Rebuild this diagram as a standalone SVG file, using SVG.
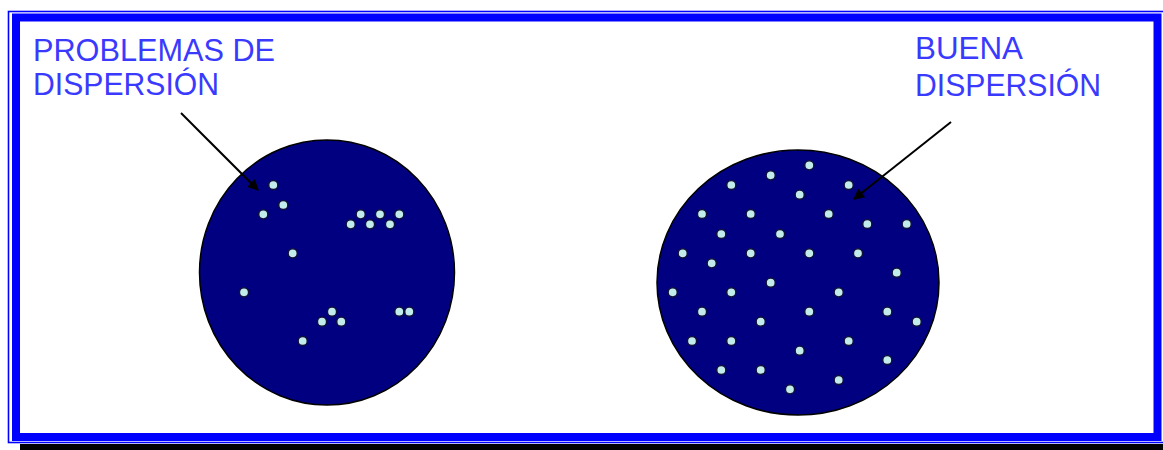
<svg xmlns="http://www.w3.org/2000/svg" width="1163" height="450" viewBox="0 0 1163 450">
<style>
.lbl{font-family:"Liberation Sans",Arial,sans-serif;font-size:31px;fill:#3a3aff}
.disk{fill:#000080;stroke:#000;stroke-width:1.5}
.dot{fill:#c2ecec;stroke:#10103a;stroke-width:1.5}
.arr{stroke:#000;stroke-width:2;fill:none;marker-end:url(#ah)}
</style>
<defs>
<marker id="ah" viewBox="0 0 10 10" refX="9" refY="5" markerWidth="13" markerHeight="11" markerUnits="userSpaceOnUse" orient="auto">
<path d="M0,0 L10,5 L0,10 z" fill="#000"/>
</marker>
<symbol id="d" overflow="visible"><circle class="dot" cx="0" cy="0" r="4.6"/></symbol>
</defs>
<rect width="1163" height="450" fill="#fff"/>
<g id="frame">
<rect x="20" y="444" width="1143" height="6" fill="#000"/>
<rect x="8.5" y="11.5" width="1160" height="431" fill="none" stroke="#0000ff" stroke-width="1.6"/>
<rect x="16" y="17.5" width="1141.5" height="419.5" fill="none" stroke="#0000ff" stroke-width="8"/>
</g>
<g id="label-problemas">
<text class="lbl" x="33" y="61" textLength="242" lengthAdjust="spacingAndGlyphs">PROBLEMAS DE</text>
<text class="lbl" x="33" y="95" textLength="186" lengthAdjust="spacingAndGlyphs">DISPERSIÓN</text>
</g>
<g id="label-buena">
<text class="lbl" x="915" y="59" textLength="108" lengthAdjust="spacingAndGlyphs">BUENA</text>
<text class="lbl" x="915" y="96" textLength="186" lengthAdjust="spacingAndGlyphs">DISPERSIÓN</text>
</g>
<g id="disk-bad">
<ellipse class="disk" cx="327" cy="272.5" rx="127.5" ry="132.5"/>
<use href="#d" x="273.3" y="185"/>
<use href="#d" x="283.3" y="205"/>
<use href="#d" x="263.3" y="214.3"/>
<use href="#d" x="360.7" y="214.3"/>
<use href="#d" x="380" y="214.3"/>
<use href="#d" x="399.3" y="214.3"/>
<use href="#d" x="350.7" y="224.3"/>
<use href="#d" x="370" y="224.3"/>
<use href="#d" x="390" y="224.3"/>
<use href="#d" x="292.7" y="253.3"/>
<use href="#d" x="244" y="292.3"/>
<use href="#d" x="332" y="311.7"/>
<use href="#d" x="322" y="321.7"/>
<use href="#d" x="341.3" y="321.7"/>
<use href="#d" x="399.3" y="311.7"/>
<use href="#d" x="409.3" y="311.7"/>
<use href="#d" x="302.7" y="341"/>
</g>
<g id="disk-good">
<ellipse class="disk" cx="798" cy="282.5" rx="141" ry="132.5"/>
<use href="#d" x="809.3" y="165.3"/>
<use href="#d" x="770.7" y="175.3"/>
<use href="#d" x="731.3" y="185"/>
<use href="#d" x="848.7" y="185"/>
<use href="#d" x="799.7" y="194.7"/>
<use href="#d" x="702" y="214"/>
<use href="#d" x="750.7" y="214"/>
<use href="#d" x="828.7" y="214"/>
<use href="#d" x="867.3" y="224"/>
<use href="#d" x="906.7" y="224"/>
<use href="#d" x="721.3" y="234"/>
<use href="#d" x="780" y="234"/>
<use href="#d" x="682.7" y="253.3"/>
<use href="#d" x="750.7" y="253.3"/>
<use href="#d" x="809.3" y="253.3"/>
<use href="#d" x="858" y="253.3"/>
<use href="#d" x="711.7" y="263.3"/>
<use href="#d" x="896.7" y="272.7"/>
<use href="#d" x="770.7" y="282.7"/>
<use href="#d" x="672.7" y="292.3"/>
<use href="#d" x="731.3" y="292.3"/>
<use href="#d" x="838.7" y="292.3"/>
<use href="#d" x="702" y="311.7"/>
<use href="#d" x="809.3" y="311.7"/>
<use href="#d" x="887.3" y="311.7"/>
<use href="#d" x="760.7" y="321.7"/>
<use href="#d" x="916.7" y="321.7"/>
<use href="#d" x="692" y="341"/>
<use href="#d" x="731.3" y="341"/>
<use href="#d" x="848.7" y="341"/>
<use href="#d" x="799.7" y="350.7"/>
<use href="#d" x="887.3" y="360"/>
<use href="#d" x="721.3" y="370"/>
<use href="#d" x="760.7" y="370"/>
<use href="#d" x="838.7" y="380"/>
<use href="#d" x="790" y="389.3"/>
</g>
<g id="connectors">
<line class="arr" x1="181" y1="113" x2="258" y2="190"/>
<line class="arr" x1="951" y1="122" x2="854" y2="199"/>
</g>
</svg>
